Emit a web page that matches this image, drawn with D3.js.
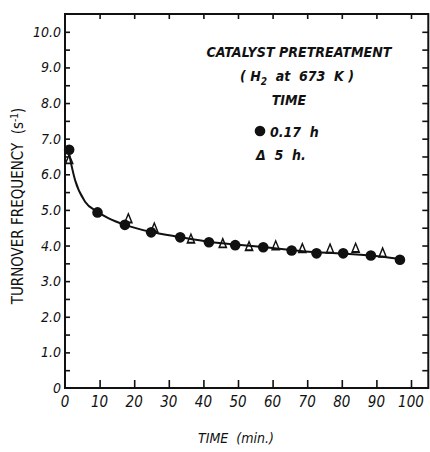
<!DOCTYPE html>
<html>
<head>
<meta charset="utf-8">
<script src="https://cdn.jsdelivr.net/npm/d3@7"></script>
<style>
  body { margin: 0; background: #fff; }
  svg { display: block; }
  text { font-family: "DejaVu Sans Condensed", "Liberation Sans Narrow", sans-serif; fill: #111; white-space: pre; }
  .tick-label { font-size: 14px; font-style: italic; }
  .legend { font-size: 14px; font-style: italic; font-weight: bold; }
</style>
</head>
<body>
<svg width="430" height="452"></svg>
<script>
// values
var timeTicks = [0, 10, 20, 30, 40, 50, 60, 70, 80, 90, 100];
var tofTicks = [0, 1, 2, 3, 4, 5, 6, 7, 8, 9, 10];
var tofTickLabels = ["0", "1.0", "2.0", "3.0", "4.0", "5.0", "6.0", "7.0", "8.0", "9.0", "10.0"];

// 0.17 h pretreatment (filled circles)
var circleTime = [1.2, 9.4, 17.3, 24.9, 33.3, 41.6, 49.2, 57.3, 65.5, 72.7, 80.4, 88.4, 96.8];
var circleTof  = [6.69, 4.93, 4.58, 4.37, 4.23, 4.09, 4.01, 3.95, 3.86, 3.78, 3.78, 3.72, 3.60];

// 5 h pretreatment (open triangles)
var triTime = [1.2, 18.3, 25.8, 36.4, 45.6, 53.2, 60.9, 68.6, 76.6, 84.0, 91.8];
var triTof  = [6.36, 4.70, 4.44, 4.13, 4.00, 3.92, 3.94, 3.86, 3.85, 3.87, 3.74];

// drawn smooth curve
var curveTime = [1.0, 2.9, 5.8, 9.3, 12.5, 17.3, 25, 33, 42, 50, 58, 66, 73, 81, 89, 97];
var curveTof  = [6.65, 5.84, 5.23, 4.95, 4.77, 4.58, 4.38, 4.24, 4.10, 4.02, 3.95, 3.87, 3.81, 3.77, 3.71, 3.62];

var svg = d3.select("svg");

var x = d3.scaleLinear().domain([0, 105]).range([65, 428.3]);
var y = d3.scaleLinear().domain([0, 10.5]).range([388, 14]);

var g = {
  frame: svg.append("g").attr("id", "frame"),
  points: svg.append("g").attr("id", "points"),
  curve: svg.append("g").attr("id", "curve"),
  legend: svg.append("g").attr("id", "legend")
};

// frame
g.frame.append("rect")
  .attr("x", x(0)).attr("y", y(10.5))
  .attr("width", x(105) - x(0)).attr("height", y(0) - y(10.5))
  .attr("fill", "none").attr("stroke", "#111").attr("stroke-width", 2);

var halfTicks = d3.range(0.5, 10.5, 0.5);

// left axis, ticks inward
var leftAxis = d3.axisRight(y)
  .tickValues(halfTicks)
  .tickSize(5)
  .tickFormat("");
g.frame.append("g").attr("transform", "translate(" + x(0) + ",0)").call(leftAxis);

// right axis, ticks inward
var rightAxis = d3.axisLeft(y)
  .tickValues(halfTicks)
  .tickSize(6)
  .tickFormat("");
g.frame.append("g").attr("transform", "translate(" + x(105) + ",0)").call(rightAxis);

// bottom axis, ticks inward
var bottomAxis = d3.axisTop(x)
  .tickValues(timeTicks.slice(1))
  .tickSize(8)
  .tickFormat("");
g.frame.append("g").attr("transform", "translate(0," + y(0) + ")").call(bottomAxis);

// top axis, ticks inward
var topAxis = d3.axisBottom(x)
  .tickValues(timeTicks.slice(1))
  .tickSize(5)
  .tickFormat("");
g.frame.append("g").attr("transform", "translate(0," + y(10.5) + ")").call(topAxis);

svg.selectAll(".domain").remove();
svg.selectAll(".tick line").attr("stroke", "#111").attr("stroke-width", 1.6);

// tick labels
g.frame.selectAll("text.ylab")
  .data(tofTicks)
  .enter().append("text")
  .attr("class", "tick-label ylab")
  .attr("x", 61)
  .attr("y", function(d) { return y(d); })
  .attr("dy", "0.36em")
  .attr("text-anchor", "end")
  .text(function(d, i) { return tofTickLabels[i]; });

g.frame.selectAll("text.xlab")
  .data(timeTicks)
  .enter().append("text")
  .attr("class", "tick-label xlab")
  .attr("x", function(d) { return x(d); })
  .attr("y", 407)
  .attr("text-anchor", "middle")
  .style("font-size", "15px")
  .text(function(d) { return d; });

// axis titles
svg.append("text")
  .attr("transform", "translate(23,206) rotate(-90)")
  .attr("text-anchor", "middle")
  .style("font-size", "15px")
  .html("TURNOVER FREQUENCY  (s<tspan dy='-5' font-size='10'>-1</tspan><tspan dy='5'>)</tspan>");

svg.append("text")
  .attr("x", 236).attr("y", 443)
  .attr("text-anchor", "middle")
  .style("font-size", "14px").style("font-style", "italic")
  .text("TIME  (min.)");

// triangles (drawn under the curve, as in the original)
var tri = d3.symbol().type(d3.symbolTriangle).size(30);
g.points.selectAll("path.tri")
  .data(d3.zip(triTime, triTof))
  .enter().append("path")
  .attr("class", "tri")
  .attr("d", tri)
  .attr("transform", function(d) { return "translate(" + x(d[0]) + "," + (y(d[1]) - 1) + ") scale(0.85,1.2)"; })
  .attr("fill", "#fff")
  .attr("stroke", "#111")
  .attr("stroke-width", 1.6);

// curve
var line = d3.line()
  .x(function(d) { return x(d[0]); })
  .y(function(d) { return y(d[1]); })
  .curve(d3.curveMonotoneX);

g.curve.append("path")
  .datum(d3.zip(curveTime, curveTof))
  .attr("d", line)
  .attr("fill", "none")
  .attr("stroke", "#111")
  .attr("stroke-width", 2);

// circles
g.curve.selectAll("circle")
  .data(d3.zip(circleTime, circleTof))
  .enter().append("circle")
  .attr("cx", function(d) { return x(d[0]); })
  .attr("cy", function(d) { return y(d[1]); })
  .attr("r", 5.3)
  .attr("fill", "#111");

// legend
g.legend.append("text").attr("class", "legend")
  .attr("x", 299).attr("y", 57).attr("text-anchor", "middle")
  .attr("textLength", 185).attr("lengthAdjust", "spacingAndGlyphs")
  .text("CATALYST PRETREATMENT");

g.legend.append("text").attr("class", "legend")
  .attr("x", 240).attr("y", 81)
  .html("( H<tspan dy='4' font-size='10'>2</tspan><tspan dy='-4'>  at  673  K )</tspan>");

g.legend.append("text").attr("class", "legend")
  .attr("x", 289).attr("y", 105).attr("text-anchor", "middle")
  .text("TIME");

g.legend.append("circle")
  .attr("cx", 260).attr("cy", 131).attr("r", 5.3).attr("fill", "#111");
g.legend.append("text").attr("class", "legend")
  .attr("x", 270).attr("y", 137)
  .text("0.17  h");

g.legend.append("text").attr("class", "legend")
  .attr("x", 256).attr("y", 160)
  .text("\u0394  5  h.");
</script>
</body>
</html>
